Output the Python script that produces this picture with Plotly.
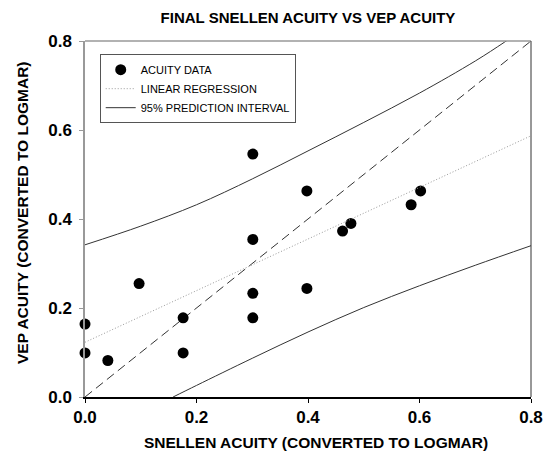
import plotly.graph_objects as go

# Acuity data (logMAR)
snellen = [0.0, 0.0, 0.041, 0.097, 0.176, 0.176, 0.301, 0.301, 0.301, 0.301,
           0.398, 0.398, 0.462, 0.477, 0.585, 0.602]
vep = [0.164, 0.099, 0.082, 0.255, 0.178, 0.099, 0.546, 0.354, 0.233, 0.178,
       0.463, 0.244, 0.373, 0.390, 0.432, 0.463]

# Linear regression line (endpoints)
reg_x = [0.0, 0.8]
reg_y = [0.123, 0.587]

# 95% prediction interval
upper_x = [0.0, 0.1, 0.2, 0.3, 0.4, 0.5, 0.6, 0.7, 0.752, 0.8]
upper_y = [0.342, 0.384, 0.432, 0.490, 0.553, 0.617, 0.683, 0.755, 0.797, 0.838]
lower_x = [0.158, 0.2, 0.3, 0.4, 0.5, 0.6, 0.7, 0.8]
lower_y = [0.0, 0.026, 0.087, 0.146, 0.201, 0.250, 0.296, 0.340]

# Line of identity
ident_x = [0.0, 0.8]
ident_y = [0.0, 0.8]

x_ticks = [0.0, 0.2, 0.4, 0.6, 0.8]
x_tick_labels = ["0.0", "0.2", "0.4", "0.6", "0.8"]
y_ticks = [0.0, 0.2, 0.4, 0.6, 0.8]
y_tick_labels = ["0.0", "0.2", "0.4", "0.6", "0.8"]

FONT = "Liberation Sans, Arial, sans-serif"

fig = go.Figure()

fig.add_trace(go.Scatter(x=ident_x, y=ident_y, mode="lines",
                         line=dict(color="#333333", width=1, dash="9px,5px"),
                         showlegend=False, hoverinfo="skip"))
fig.add_trace(go.Scatter(x=snellen, y=vep, mode="markers", name="ACUITY DATA",
                         marker=dict(color="black", size=11, symbol="circle"),
                         cliponaxis=False))
fig.add_trace(go.Scatter(x=reg_x, y=reg_y, mode="lines", name="LINEAR REGRESSION",
                         line=dict(color="#999999", width=1, dash="1px,2px")))
fig.add_trace(go.Scatter(x=upper_x, y=upper_y, mode="lines", name="95% PREDICTION INTERVAL",
                         line=dict(color="#333333", width=1, shape="spline", smoothing=1)))
fig.add_trace(go.Scatter(x=lower_x, y=lower_y, mode="lines", showlegend=False,
                         line=dict(color="#333333", width=1, shape="spline", smoothing=1)))

fig.update_layout(
    width=555, height=454,
    margin=dict(l=85, r=19, t=41, b=57),
    paper_bgcolor="white", plot_bgcolor="white",
    font=dict(family=FONT, color="black"),
    title=dict(text="<b>FINAL SNELLEN ACUITY VS VEP ACUITY</b>",
               font=dict(size=15, family=FONT),
               x=0.5, xref="paper", xanchor="center",
               y=1 - 18 / 454, yref="container", yanchor="middle"),
    xaxis=dict(range=[0, 0.8], tickvals=x_ticks,
               ticktext=["<b>%s</b>" % t for t in x_tick_labels],
               showgrid=False, zeroline=False,
               showline=True, linecolor="black", linewidth=1.5,
               ticks="outside", ticklen=4, tickcolor="black",
               tickfont=dict(size=17, family=FONT),
               ticklabelstandoff=0),
    yaxis=dict(range=[0, 0.8], tickvals=y_ticks,
               ticktext=["<b>%s</b>" % t for t in y_tick_labels],
               showgrid=False, zeroline=False,
               showline=True, linecolor="#999999", linewidth=1.5,
               ticks="outside", ticklen=4, tickcolor="#999999",
               tickfont=dict(size=17, family=FONT),
               ticklabelstandoff=4),
    legend=dict(x=0.033, y=0.963, xanchor="left", yanchor="top",
                bgcolor="white", bordercolor="#555555", borderwidth=1,
                font=dict(size=11, family=FONT), itemwidth=30,
                tracegroupgap=0),
    shapes=[
        dict(type="line", xref="paper", yref="paper", x0=0, x1=1, y0=1, y1=1,
             line=dict(color="#999999", width=1.5)),
        dict(type="line", xref="paper", yref="paper", x0=1, x1=1, y0=0, y1=1,
             line=dict(color="#333333", width=1)),
    ],
    annotations=[
        dict(text="<b>SNELLEN ACUITY (CONVERTED TO LOGMAR)</b>",
             xref="paper", yref="paper", x=0.518, y=-0.128,
             xanchor="center", yanchor="middle", showarrow=False,
             font=dict(size=15.5, family=FONT)),
        dict(text="<b>VEP ACUITY (CONVERTED TO LOGMAR)</b>",
             xref="paper", yref="paper", x=-0.1397, y=0.5187,
             xanchor="center", yanchor="middle", textangle=-90, showarrow=False,
             font=dict(size=15.5, family=FONT)),
    ],
)

fig.write_html("out.html")
